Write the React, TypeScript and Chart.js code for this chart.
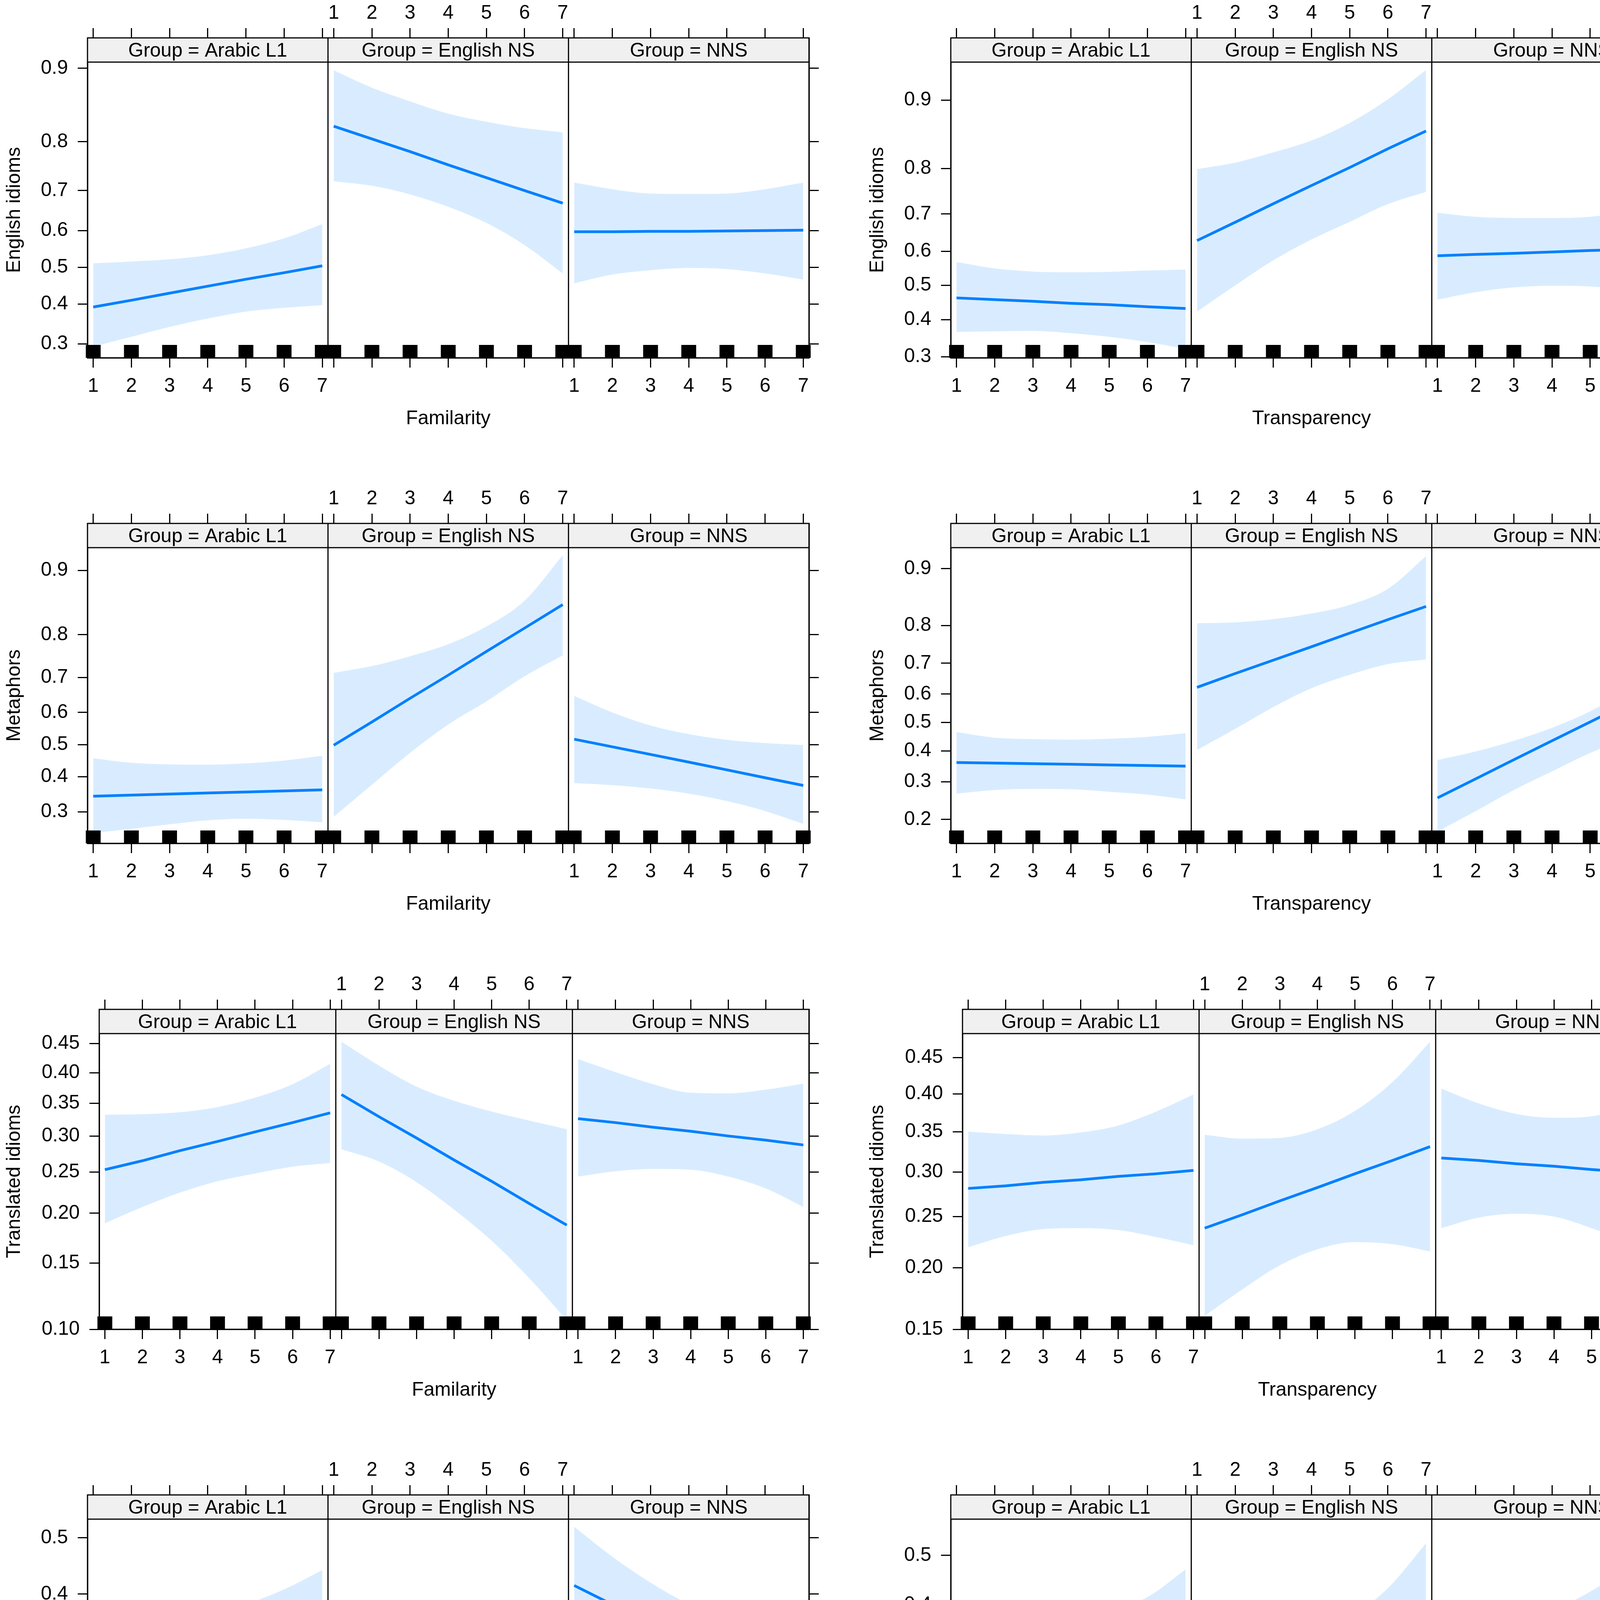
import { useEffect, useRef } from 'react'
import { Chart, registerables } from 'chart.js'

Chart.register(...registerables)

// ---- data (probabilities, x = 1..7) ----
const xValues = [1, 2, 3, 4, 5, 6, 7]
const groups = ['Arabic L1', 'English NS', 'NNS']

// English idioms ~ Familarity
const engFamFit = [
    [0.392, 0.410, 0.429, 0.448, 0.467, 0.485, 0.504],
    [0.826, 0.805, 0.782, 0.756, 0.729, 0.700, 0.670],
    [0.597, 0.597, 0.598, 0.598, 0.599, 0.600, 0.601]
]
const engFamLower = [
    [0.294, 0.317, 0.341, 0.362, 0.380, 0.390, 0.397],
    [0.721, 0.711, 0.691, 0.661, 0.620, 0.561, 0.483],
    [0.456, 0.480, 0.492, 0.498, 0.495, 0.483, 0.466]
]
const engFamUpper = [
    [0.511, 0.516, 0.522, 0.533, 0.552, 0.579, 0.617],
    [0.898, 0.879, 0.862, 0.845, 0.833, 0.823, 0.816],
    [0.718, 0.703, 0.693, 0.692, 0.693, 0.703, 0.718]
]

// English idioms ~ Transparency
const engTraFit = [
    [0.463, 0.458, 0.453, 0.447, 0.443, 0.437, 0.432],
    [0.630, 0.679, 0.725, 0.766, 0.802, 0.835, 0.862],
    [0.587, 0.591, 0.594, 0.598, 0.602, 0.605, 0.609]
]
const engTraLower = [
    [0.365, 0.367, 0.368, 0.362, 0.352, 0.338, 0.320],
    [0.423, 0.500, 0.574, 0.633, 0.680, 0.724, 0.752],
    [0.458, 0.480, 0.494, 0.499, 0.497, 0.484, 0.471]
]
const engTraUpper = [
    [0.569, 0.550, 0.541, 0.539, 0.540, 0.544, 0.547],
    [0.799, 0.811, 0.829, 0.848, 0.873, 0.901, 0.928],
    [0.703, 0.693, 0.690, 0.690, 0.693, 0.708, 0.730]
]

// Metaphors ~ Familarity
const metFamFit = [
    [0.343, 0.346, 0.349, 0.352, 0.355, 0.358, 0.361],
    [0.498, 0.571, 0.642, 0.706, 0.764, 0.813, 0.854],
    [0.517, 0.493, 0.469, 0.445, 0.421, 0.397, 0.374]
]
const metFamLower = [
    [0.247, 0.257, 0.268, 0.278, 0.282, 0.279, 0.273],
    [0.287, 0.376, 0.474, 0.563, 0.633, 0.703, 0.755],
    [0.381, 0.375, 0.365, 0.350, 0.329, 0.302, 0.269]
]
const metFamUpper = [
    [0.457, 0.443, 0.438, 0.437, 0.441, 0.450, 0.465],
    [0.712, 0.729, 0.753, 0.780, 0.816, 0.860, 0.916],
    [0.649, 0.600, 0.560, 0.533, 0.515, 0.505, 0.499]
]

// Metaphors ~ Transparency
const metTraFit = [
    [0.361, 0.359, 0.357, 0.355, 0.353, 0.351, 0.349],
    [0.623, 0.668, 0.709, 0.747, 0.782, 0.813, 0.840],
    [0.254, 0.309, 0.370, 0.435, 0.502, 0.569, 0.634]
]
const metTraLower = [
    [0.266, 0.276, 0.279, 0.278, 0.271, 0.263, 0.250],
    [0.403, 0.477, 0.555, 0.620, 0.664, 0.697, 0.711],
    [0.174, 0.220, 0.276, 0.332, 0.393, 0.446, 0.505]
]
const metTraUpper = [
    [0.466, 0.446, 0.441, 0.439, 0.442, 0.449, 0.462],
    [0.805, 0.807, 0.814, 0.826, 0.843, 0.871, 0.915],
    [0.369, 0.398, 0.435, 0.481, 0.540, 0.620, 0.747]
]

// Translated idioms ~ Familarity
const traFamFit = [
    [0.253, 0.265, 0.279, 0.292, 0.306, 0.320, 0.335],
    [0.364, 0.329, 0.297, 0.266, 0.238, 0.211, 0.187],
    [0.326, 0.320, 0.313, 0.307, 0.300, 0.294, 0.287]
]
const traFamLower = [
    [0.189, 0.207, 0.224, 0.238, 0.248, 0.257, 0.262],
    [0.281, 0.264, 0.237, 0.204, 0.171, 0.137, 0.106],
    [0.244, 0.251, 0.254, 0.253, 0.244, 0.229, 0.207]
]
const traFamUpper = [
    [0.332, 0.333, 0.336, 0.344, 0.359, 0.381, 0.415],
    [0.453, 0.412, 0.377, 0.354, 0.337, 0.323, 0.310],
    [0.423, 0.401, 0.381, 0.367, 0.366, 0.372, 0.382]
]

// Translated idioms ~ Transparency
const traTraFit = [
    [0.281, 0.284, 0.288, 0.291, 0.295, 0.298, 0.302],
    [0.238, 0.252, 0.267, 0.282, 0.298, 0.314, 0.331],
    [0.317, 0.314, 0.310, 0.307, 0.303, 0.300, 0.297]
]
const traTraLower = [
    [0.219, 0.230, 0.237, 0.238, 0.236, 0.229, 0.221],
    [0.160, 0.181, 0.202, 0.217, 0.224, 0.222, 0.215],
    [0.238, 0.249, 0.253, 0.250, 0.238, 0.223, 0.204]
]
const traTraUpper = [
    [0.350, 0.347, 0.345, 0.349, 0.358, 0.376, 0.399],
    [0.346, 0.341, 0.342, 0.353, 0.377, 0.416, 0.472],
    [0.407, 0.387, 0.373, 0.368, 0.370, 0.384, 0.408]
]

// Arabic idioms ~ Familarity
const araFamFit = [
    [0.271, 0.285, 0.299, 0.314, 0.329, 0.344, 0.360],
    [0.300, 0.285, 0.270, 0.256, 0.243, 0.230, 0.217],
    [0.415, 0.382, 0.351, 0.320, 0.291, 0.264, 0.238]
]
const araFamLower = [
    [0.201, 0.223, 0.245, 0.265, 0.277, 0.283, 0.287],
    [0.226, 0.223, 0.210, 0.193, 0.171, 0.150, 0.127],
    [0.315, 0.304, 0.284, 0.259, 0.232, 0.203, 0.169]
]
const araFamUpper = [
    [0.355, 0.357, 0.359, 0.369, 0.383, 0.408, 0.442],
    [0.390, 0.359, 0.340, 0.333, 0.333, 0.340, 0.350],
    [0.520, 0.466, 0.420, 0.383, 0.359, 0.343, 0.331]
]

// Arabic idioms ~ Transparency
const araTraFit = [
    [0.272, 0.288, 0.304, 0.320, 0.337, 0.355, 0.373],
    [0.184, 0.211, 0.241, 0.273, 0.307, 0.344, 0.383],
    [0.245, 0.274, 0.305, 0.337, 0.371, 0.407, 0.443]
]
const araTraLower = [
    [0.211, 0.231, 0.253, 0.268, 0.277, 0.283, 0.287],
    [0.116, 0.147, 0.180, 0.210, 0.233, 0.249, 0.258],
    [0.178, 0.210, 0.239, 0.268, 0.290, 0.309, 0.331]
]
const araTraUpper = [
    [0.344, 0.347, 0.355, 0.368, 0.387, 0.415, 0.471],
    [0.290, 0.296, 0.309, 0.335, 0.374, 0.433, 0.525],
    [0.327, 0.341, 0.361, 0.389, 0.426, 0.480, 0.559]
]

// y tick labels
const ticksWide = [0.3, 0.4, 0.5, 0.6, 0.7, 0.8, 0.9]
const ticksMetTra = [0.2, 0.3, 0.4, 0.5, 0.6, 0.7, 0.8, 0.9]
const ticksTraFam = [0.10, 0.15, 0.20, 0.25, 0.30, 0.35, 0.40, 0.45]
const ticksTraTra = [0.15, 0.20, 0.25, 0.30, 0.35, 0.40, 0.45]
const ticksArabic = [0.2, 0.3, 0.4, 0.5]

// ---- layout / style ----
const FONT = "'Liberation Sans', Arial, sans-serif"
const CANVAS_W = 2107
const CANVAS_H = 1243
const AREA_TOP = 97
const STRIP_H = 62
const AREA_BOTTOM = 916
const AREA_RIGHT = 2071
const COL_OFFSET = 2210
const ROW_OFFSET = 1243.4
const PAD = 0.15
const SPAN = 6 + 2 * PAD
const LINE = '#0080FF'
const BAND = 'rgba(0, 128, 255, 0.15)'
const STRIP_BG = '#F0F0F0'

const logit = (p: number) => Math.log(p / (1 - p))
const expit = (v: number) => 1 / (1 + Math.exp(-v))

interface PlotSpec {
    yTitle: string
    xTitle: string
    fit: number[][]
    lower: number[][]
    upper: number[][]
    yTicks: number[]
    yRange: [number, number]
    digits: number
    left: number
}

const plots: PlotSpec[] = [
    { yTitle: 'English idioms', xTitle: 'Familarity', fit: engFamFit, lower: engFamLower, upper: engFamUpper, yTicks: ticksWide, yRange: [0.269, 0.906], digits: 1, left: 224 },
    { yTitle: 'English idioms', xTitle: 'Transparency', fit: engTraFit, lower: engTraLower, upper: engTraUpper, yTicks: ticksWide, yRange: [0.2975, 0.934], digits: 1, left: 224 },
    { yTitle: 'Metaphors', xTitle: 'Familarity', fit: metFamFit, lower: metFamLower, upper: metFamUpper, yTicks: ticksWide, yRange: [0.2235, 0.923], digits: 1, left: 224 },
    { yTitle: 'Metaphors', xTitle: 'Transparency', fit: metTraFit, lower: metTraLower, upper: metTraUpper, yTicks: ticksMetTra, yRange: [0.151, 0.924], digits: 1, left: 224 },
    { yTitle: 'Translated idioms', xTitle: 'Familarity', fit: traFamFit, lower: traFamLower, upper: traFamUpper, yTicks: ticksTraFam, yRange: [0.1, 0.467], digits: 2, left: 254 },
    { yTitle: 'Translated idioms', xTitle: 'Transparency', fit: traTraFit, lower: traTraLower, upper: traTraUpper, yTicks: ticksTraTra, yRange: [0.15, 0.4836], digits: 2, left: 254 },
    { yTitle: 'Arabic idioms', xTitle: 'Familarity', fit: araFamFit, lower: araFamLower, upper: araFamUpper, yTicks: ticksArabic, yRange: [0.1196, 0.5336], digits: 1, left: 224 },
    { yTitle: 'Arabic idioms', xTitle: 'Transparency', fit: araTraFit, lower: araTraLower, upper: araTraUpper, yTicks: ticksArabic, yRange: [0.106, 0.574], digits: 1, left: 224 }
]

const tickPositions = groups.flatMap((_, k) => xValues.map(x => k * SPAN + x))

function EffectPlot({ spec }: { spec: PlotSpec }) {
    const canvasRef = useRef<HTMLCanvasElement>(null)

    useEffect(() => {
        if (!canvasRef.current) return
        const ctx = canvasRef.current.getContext('2d')
        if (!ctx) return

        const lo = logit(spec.yRange[0])
        const hi = logit(spec.yRange[1])
        // the strip sits inside the chart area, above the panel
        const panelH = AREA_BOTTOM - AREA_TOP - STRIP_H
        const yMax = hi + (hi - lo) * STRIP_H / panelH

        const datasets: any[] = []
        groups.forEach((_, k) => {
            const pts = (vals: number[]) => xValues.map((x, i) => ({ x: k * SPAN + x, y: logit(vals[i]) }))
            const lowerIndex = datasets.length
            datasets.push({
                data: pts(spec.lower[k]), xAxisID: 'x', yAxisID: 'y',
                borderColor: 'transparent', borderWidth: 0, pointRadius: 0,
                fill: false, cubicInterpolationMode: 'monotone', order: 1
            })
            datasets.push({
                data: pts(spec.upper[k]), xAxisID: 'x', yAxisID: 'y',
                borderColor: 'transparent', borderWidth: 0, pointRadius: 0,
                fill: lowerIndex, backgroundColor: BAND, cubicInterpolationMode: 'monotone', order: 1
            })
            datasets.push({
                data: pts(spec.fit[k]), xAxisID: 'x', yAxisID: 'y',
                borderColor: LINE, borderWidth: 7, pointRadius: 0, fill: false, order: 0
            })
        })

        const font = { family: FONT, size: 50 }
        const grid = { drawOnChartArea: false, tickLength: 25, tickWidth: 3, tickColor: '#000' }
        const border = { color: '#000', width: 3 }
        const xLabel = (show: number[]) => (_v: any, index: number) =>
            show.includes(Math.floor(index / 7)) ? String(xValues[index % 7]) : ''
        const setXTicks = (s: any) => { s.ticks = tickPositions.map(v => ({ value: v })) }
        const setYTicks = (s: any) => { s.ticks = spec.yTicks.map(v => ({ value: logit(v) })) }

        const lattice = {
            id: 'lattice',
            afterDatasetsDraw(chart: any) {
                const c = chart.ctx
                const { left, right, top, bottom } = chart.chartArea
                const xs = chart.scales.x
                const stripBottom = chart.scales.y.getPixelForValue(hi)
                c.save()
                c.fillStyle = STRIP_BG
                c.fillRect(left, top, right - left, stripBottom - top)

                // rug
                c.fillStyle = '#000'
                groups.forEach((_, k) => xValues.forEach(x => {
                    const px = xs.getPixelForValue(k * SPAN + x)
                    c.fillRect(px - 19, bottom - 33, 38, 33)
                }))

                c.strokeStyle = '#000'
                c.lineWidth = 3
                c.beginPath()
                c.moveTo(left, stripBottom)
                c.lineTo(right, stripBottom)
                for (let k = 1; k < groups.length; k++) {
                    const px = xs.getPixelForValue(k * SPAN + 1 - PAD)
                    c.moveTo(px, top)
                    c.lineTo(px, bottom)
                }
                c.stroke()
                c.strokeRect(left, top, right - left, bottom - top)

                c.font = `50px ${FONT}`
                c.fillStyle = '#000'
                c.textAlign = 'center'
                c.textBaseline = 'middle'
                groups.forEach((g, k) => {
                    c.fillText(`Group = ${g}`, xs.getPixelForValue(k * SPAN + 4), (top + stripBottom) / 2 + 3)
                })

                c.translate(37, (stripBottom + bottom) / 2)
                c.rotate(-Math.PI / 2)
                c.fillText(spec.yTitle, 0, 0)
                c.restore()
            }
        }

        const chart = new Chart(ctx, {
            type: 'line',
            data: { datasets },
            plugins: [lattice],
            options: {
                animation: false,
                responsive: false,
                devicePixelRatio: 1,
                events: [],
                layout: { padding: 0, autoPadding: false },
                plugins: { legend: { display: false }, tooltip: { enabled: false } },
                scales: {
                    x: {
                        type: 'linear', position: 'bottom',
                        min: 1 - PAD, max: 1 - PAD + 3 * SPAN,
                        afterBuildTicks: setXTicks,
                        ticks: { callback: xLabel([0, 2]), autoSkip: false, maxRotation: 0, minRotation: 0, padding: 18, font, color: '#000' },
                        grid, border,
                        title: { display: true, text: spec.xTitle, font, color: '#000', padding: { top: 0, bottom: 141 } },
                        afterFit: (s: any) => { s.height = CANVAS_H - AREA_BOTTOM }
                    },
                    xTop: {
                        type: 'linear', position: 'top',
                        min: 1 - PAD, max: 1 - PAD + 3 * SPAN,
                        afterBuildTicks: setXTicks,
                        ticks: { callback: xLabel([1]), autoSkip: false, maxRotation: 0, minRotation: 0, padding: 8, font, color: '#000' },
                        grid, border,
                        afterFit: (s: any) => { s.height = AREA_TOP }
                    },
                    y: {
                        type: 'linear', position: 'left',
                        min: lo, max: yMax,
                        afterBuildTicks: setYTicks,
                        ticks: { callback: (v: any) => expit(Number(v)).toFixed(spec.digits), autoSkip: false, padding: 25, font, color: '#000' },
                        grid, border,
                        afterFit: (s: any) => { s.width = spec.left }
                    },
                    yRight: {
                        type: 'linear', position: 'right',
                        min: lo, max: yMax,
                        afterBuildTicks: setYTicks,
                        ticks: { display: false },
                        grid, border,
                        afterFit: (s: any) => { s.width = CANVAS_W - AREA_RIGHT }
                    }
                }
            } as any
        })

        return () => {
            chart.destroy()
        }
    }, [spec])

    return <canvas ref={canvasRef} width={CANVAS_W} height={CANVAS_H} style={{ width: CANVAS_W, height: CANVAS_H, display: 'block' }} />
}

export default function App() {
    return (
        <div style={{ position: 'absolute', left: 0, top: 0, width: 4317, height: 4851, background: '#fff', overflow: 'hidden' }}>
            {plots.map((spec, i) => (
                <div
                    key={i}
                    style={{ position: 'absolute', left: (i % 2) * COL_OFFSET, top: Math.round(Math.floor(i / 2) * ROW_OFFSET) }}
                >
                    <EffectPlot spec={spec} />
                </div>
            ))}
        </div>
    )
}
